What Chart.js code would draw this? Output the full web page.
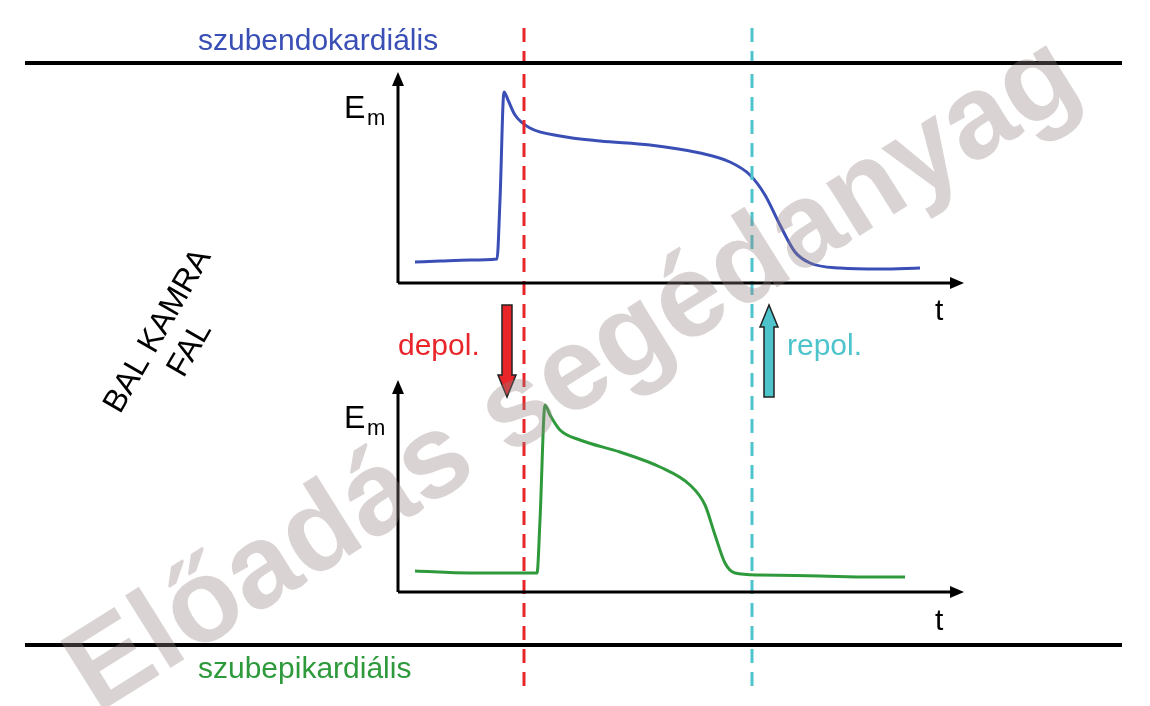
<!DOCTYPE html>
<html><head><meta charset="utf-8">
<script src="https://cdn.jsdelivr.net/npm/chart.js@4.4.1/dist/chart.umd.min.js"></script>
<style>html,body{margin:0;background:#fff}#w{width:1150px;height:706px}</style>
</head><body><div id="w"><canvas id="c"></canvas></div>
<script>
// page-unit coordinates (x right, y down)
const endoX=[415,440,470,497,500,504,508,515,530,560,600,650,700,730,750,765,780,795,810,840,880,920];
const endoY=[262,261,260,259,200,92,100,115,128,136,141,145,153,162,175,195,225,252,263,268,269,268];
const epiX=[415,470,520,537,540,545,550,560,580,620,660,690,705,715,725,735,760,820,870,905];
const epiY=[571,573,573,573,520,405,415,430,440,452,467,485,505,535,563,573,575,576,577,577];
const labels={endo:"szubendokardiális",epi:"szubepikardiális",wall:["BAL KAMRA","FAL"],depol:"depol.",repol:"repol.",t:"t",em:"E",sub:"m",wm:"Előadás segédanyag"};
const pts=(xs,ys)=>xs.map((x,i)=>({x,y:ys[i]}));
const seg=(x1,y1,x2,y2)=>[{x:x1,y:y1},{x:x2,y:y2}];
const ds=(data,color,w,dash,curve)=>({data,borderColor:color,borderWidth:w,borderDash:dash||[],pointRadius:0,cubicInterpolationMode:curve?'monotone':'default',tension:0,fill:false});
const plugin={id:'ann',afterDatasetsDraw(ch){
 const c=ch.ctx,X=v=>ch.scales.x.getPixelForValue(v),Y=v=>ch.scales.y.getPixelForValue(v);
 c.save();
 const head=(x,y,dir)=>{c.fillStyle='#000';c.beginPath();
  if(dir==='up'){c.moveTo(X(x),Y(y));c.lineTo(X(x)-6,Y(y)+14);c.lineTo(X(x)+6,Y(y)+14);}
  else{c.moveTo(X(x),Y(y));c.lineTo(X(x)-14,Y(y)-6);c.lineTo(X(x)-14,Y(y)+6);}
  c.fill();};
 head(398,72,'up');head(964,283,'right');head(398,380,'up');head(964,592,'right');
 c.font='30px "Liberation Sans", Arial';c.textBaseline='alphabetic';
 c.fillStyle='#3a4fb5';c.fillText(labels.endo,X(198),Y(50));
 c.fillStyle='#2e9a3c';c.fillText(labels.epi,X(198),Y(678));
 c.fillStyle='#000';c.font='32px "Liberation Sans", Arial';
 c.fillText(labels.em,X(344),Y(118));c.fillText(labels.em,X(344),Y(428));
 c.font='22px "Liberation Sans", Arial';c.fillText(labels.sub,X(367),Y(125));c.fillText(labels.sub,X(367),Y(435));
 c.font='30px "Liberation Sans", Arial';c.fillText(labels.t,X(935),Y(320));c.fillText(labels.t,X(935),Y(630));
 c.fillStyle='#e8262a';c.fillText(labels.depol,X(398),Y(355));
 c.fillStyle='#4dc3cc';c.fillText(labels.repol,X(787),Y(355));
 const blk=(x,y1,y2,col)=>{const d=y2>y1?1:-1;c.fillStyle=col;c.strokeStyle='#222';c.lineWidth=1.5;c.beginPath();
  c.moveTo(X(x-5),Y(y1));c.lineTo(X(x+5),Y(y1));c.lineTo(X(x+5),Y(y2-d*22));c.lineTo(X(x+9),Y(y2-d*22));c.lineTo(X(x),Y(y2));
  c.lineTo(X(x-9),Y(y2-d*22));c.lineTo(X(x-5),Y(y2-d*22));c.closePath();c.fill();c.stroke();};
 blk(507,305,397,'#e8262a');blk(769,397,305,'#4dc3cc');
 c.fillStyle='#000';c.font='32px "Liberation Sans", Arial';
 c.translate(X(170),Y(338));c.rotate(-Math.PI/3);c.textAlign='center';
 c.fillText(labels.wall[0],0,-5);c.fillText(labels.wall[1],0,32);
 c.restore();c.save();
 c.fillStyle='rgba(150,130,130,0.35)';c.font='bold 118px "Liberation Sans", Arial';c.textAlign='center';
 c.translate(X(570),Y(370));c.rotate(-0.56);c.fillText(labels.wm,0,40);
 c.restore();}};
new Chart(document.getElementById('c'),{type:'line',
 data:{datasets:[
  ds(seg(25,63,1122,63),'#000',4),ds(seg(25,645,1122,645),'#000',4),
  ds(seg(398,80,398,283),'#000',3),ds(seg(398,283,955,283),'#000',3),
  ds(seg(398,388,398,592),'#000',3),ds(seg(398,592,955,592),'#000',3),
  ds(seg(524,28,524,690),'#e8262a',3,[14,9]),ds(seg(752,28,752,690),'#4dc3cc',3,[14,9]),
  ds(pts(endoX,endoY),'#3a4fb5',3,null,true),ds(pts(epiX,epiY),'#2e9a3c',3,null,true)]},
 options:{responsive:true,maintainAspectRatio:false,animation:false,layout:{padding:0},
  plugins:{legend:{display:false},tooltip:{enabled:false}},
  scales:{x:{type:'linear',min:0,max:1150,display:false},y:{type:'linear',min:0,max:706,reverse:true,display:false}}},
 plugins:[plugin]});
</script></body></html>
